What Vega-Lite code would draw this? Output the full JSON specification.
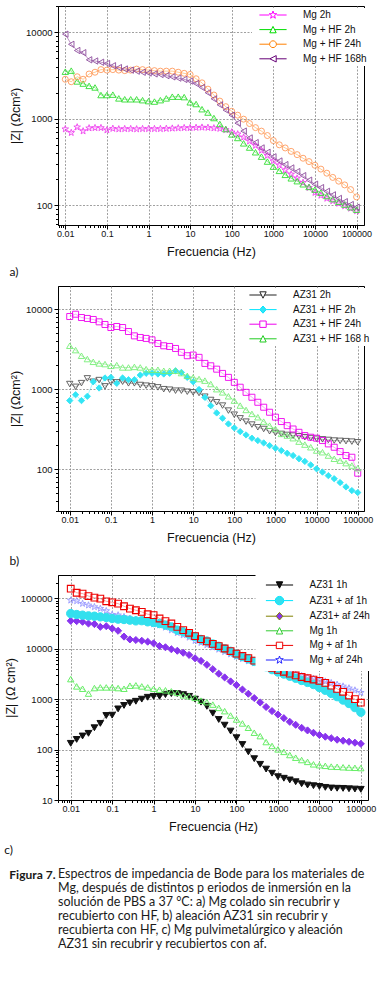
{
"$schema": "https://vega.github.io/schema/vega-lite/v6.json",
"background": "white",
"padding": {"left": 3, "top": 0, "right": 0, "bottom": 0},
"spacing": 7,
"config": {
  "font": "Liberation Sans",
  "view": {"stroke": "#000", "strokeWidth": 1},
  "axis": {"domainColor": "#000", "tickColor": "#000", "labelColor": "#111", "titleColor": "#111", "gridColor": "#888888", "gridDash": [2, 1.5], "gridWidth": 0.8, "labelFont": "Liberation Sans", "titleFont": "Liberation Sans", "titleFontWeight": "normal", "titleFontSize": 12.5, "tickWidth": 1, "domainWidth": 1},
  "legend": {"labelFont": "Liberation Sans", "labelFontSize": 10, "labelColor": "#111", "symbolSize": 64, "symbolStrokeWidth": 1, "symbolOffset": 14, "labelOffset": 25, "rowPadding": 2.6, "padding": 2, "symbolOpacity": 1, "labelLimit": 200}
},
"resolve": {"scale": {"x": "independent", "y": "independent", "color": "independent", "shape": "independent"}, "legend": {"color": "independent", "shape": "independent"}},
"datasets": {
"a": [
{"s":"Mg 2h","f":0.01,"z":760},{"s":"Mg 2h","f":0.0139,"z":690},{"s":"Mg 2h","f":0.0193,"z":800},{"s":"Mg 2h","f":0.0268,"z":720},{"s":"Mg 2h","f":0.0373,"z":780},{"s":"Mg 2h","f":0.0518,"z":785},{"s":"Mg 2h","f":0.072,"z":785},{"s":"Mg 2h","f":0.1,"z":740},{"s":"Mg 2h","f":0.139,"z":770},{"s":"Mg 2h","f":0.193,"z":760},{"s":"Mg 2h","f":0.268,"z":765},{"s":"Mg 2h","f":0.373,"z":765},{"s":"Mg 2h","f":0.518,"z":760},{"s":"Mg 2h","f":0.72,"z":765},{"s":"Mg 2h","f":1,"z":765},{"s":"Mg 2h","f":1.39,"z":765},{"s":"Mg 2h","f":1.93,"z":765},{"s":"Mg 2h","f":2.68,"z":770},{"s":"Mg 2h","f":3.73,"z":775},{"s":"Mg 2h","f":5.18,"z":780},{"s":"Mg 2h","f":7.2,"z":785},{"s":"Mg 2h","f":10,"z":785},{"s":"Mg 2h","f":13.9,"z":790},{"s":"Mg 2h","f":19.3,"z":795},{"s":"Mg 2h","f":26.8,"z":790},{"s":"Mg 2h","f":37.3,"z":780},{"s":"Mg 2h","f":51.8,"z":770},{"s":"Mg 2h","f":72,"z":745},{"s":"Mg 2h","f":100,"z":700},{"s":"Mg 2h","f":139,"z":665},{"s":"Mg 2h","f":193,"z":610},{"s":"Mg 2h","f":268,"z":550},{"s":"Mg 2h","f":373,"z":490},{"s":"Mg 2h","f":518,"z":430},{"s":"Mg 2h","f":720,"z":375},{"s":"Mg 2h","f":1000,"z":325},{"s":"Mg 2h","f":1390,"z":290},{"s":"Mg 2h","f":1930,"z":255},{"s":"Mg 2h","f":2680,"z":228},{"s":"Mg 2h","f":3730,"z":205},{"s":"Mg 2h","f":5180,"z":183},{"s":"Mg 2h","f":7200,"z":160},{"s":"Mg 2h","f":10000,"z":140},{"s":"Mg 2h","f":13900,"z":130},{"s":"Mg 2h","f":19300,"z":120},{"s":"Mg 2h","f":26800,"z":112},{"s":"Mg 2h","f":37300,"z":105},{"s":"Mg 2h","f":51800,"z":98},{"s":"Mg 2h","f":72000,"z":92},{"s":"Mg 2h","f":100000,"z":86},
{"s":"Mg + HF 2h","f":0.01,"z":3500},{"s":"Mg + HF 2h","f":0.0139,"z":3600},{"s":"Mg + HF 2h","f":0.0193,"z":2700},{"s":"Mg + HF 2h","f":0.0268,"z":2550},{"s":"Mg + HF 2h","f":0.0373,"z":2400},{"s":"Mg + HF 2h","f":0.0518,"z":2300},{"s":"Mg + HF 2h","f":0.072,"z":1880},{"s":"Mg + HF 2h","f":0.1,"z":1880},{"s":"Mg + HF 2h","f":0.139,"z":1900},{"s":"Mg + HF 2h","f":0.193,"z":1720},{"s":"Mg + HF 2h","f":0.268,"z":1680},{"s":"Mg + HF 2h","f":0.373,"z":1680},{"s":"Mg + HF 2h","f":0.518,"z":1680},{"s":"Mg + HF 2h","f":0.72,"z":1640},{"s":"Mg + HF 2h","f":1,"z":1600},{"s":"Mg + HF 2h","f":1.39,"z":1580},{"s":"Mg + HF 2h","f":1.93,"z":1640},{"s":"Mg + HF 2h","f":2.68,"z":1720},{"s":"Mg + HF 2h","f":3.73,"z":1800},{"s":"Mg + HF 2h","f":5.18,"z":1800},{"s":"Mg + HF 2h","f":7.2,"z":1780},{"s":"Mg + HF 2h","f":10,"z":1550},{"s":"Mg + HF 2h","f":13.9,"z":1480},{"s":"Mg + HF 2h","f":19.3,"z":1290},{"s":"Mg + HF 2h","f":26.8,"z":1180},{"s":"Mg + HF 2h","f":37.3,"z":1020},{"s":"Mg + HF 2h","f":51.8,"z":870},{"s":"Mg + HF 2h","f":72,"z":760},{"s":"Mg + HF 2h","f":100,"z":660},{"s":"Mg + HF 2h","f":139,"z":600},{"s":"Mg + HF 2h","f":193,"z":520},{"s":"Mg + HF 2h","f":268,"z":465},{"s":"Mg + HF 2h","f":373,"z":410},{"s":"Mg + HF 2h","f":518,"z":365},{"s":"Mg + HF 2h","f":720,"z":320},{"s":"Mg + HF 2h","f":1000,"z":280},{"s":"Mg + HF 2h","f":1390,"z":250},{"s":"Mg + HF 2h","f":1930,"z":225},{"s":"Mg + HF 2h","f":2680,"z":205},{"s":"Mg + HF 2h","f":3730,"z":190},{"s":"Mg + HF 2h","f":5180,"z":175},{"s":"Mg + HF 2h","f":7200,"z":163},{"s":"Mg + HF 2h","f":10000,"z":152},{"s":"Mg + HF 2h","f":13900,"z":140},{"s":"Mg + HF 2h","f":19300,"z":128},{"s":"Mg + HF 2h","f":26800,"z":118},{"s":"Mg + HF 2h","f":37300,"z":110},{"s":"Mg + HF 2h","f":51800,"z":102},{"s":"Mg + HF 2h","f":72000,"z":95},{"s":"Mg + HF 2h","f":100000,"z":89},
{"s":"Mg + HF 24h","f":0.01,"z":2860},{"s":"Mg + HF 24h","f":0.0139,"z":2680},{"s":"Mg + HF 24h","f":0.0193,"z":3060},{"s":"Mg + HF 24h","f":0.0268,"z":2860},{"s":"Mg + HF 24h","f":0.0373,"z":3290},{"s":"Mg + HF 24h","f":0.0518,"z":3450},{"s":"Mg + HF 24h","f":0.072,"z":3700},{"s":"Mg + HF 24h","f":0.1,"z":3650},{"s":"Mg + HF 24h","f":0.139,"z":3700},{"s":"Mg + HF 24h","f":0.193,"z":3650},{"s":"Mg + HF 24h","f":0.268,"z":3600},{"s":"Mg + HF 24h","f":0.373,"z":3650},{"s":"Mg + HF 24h","f":0.518,"z":3750},{"s":"Mg + HF 24h","f":0.72,"z":3700},{"s":"Mg + HF 24h","f":1,"z":3650},{"s":"Mg + HF 24h","f":1.39,"z":3600},{"s":"Mg + HF 24h","f":1.93,"z":3550},{"s":"Mg + HF 24h","f":2.68,"z":3550},{"s":"Mg + HF 24h","f":3.73,"z":3550},{"s":"Mg + HF 24h","f":5.18,"z":3450},{"s":"Mg + HF 24h","f":7.2,"z":3350},{"s":"Mg + HF 24h","f":10,"z":3250},{"s":"Mg + HF 24h","f":13.9,"z":2900},{"s":"Mg + HF 24h","f":19.3,"z":2600},{"s":"Mg + HF 24h","f":26.8,"z":2200},{"s":"Mg + HF 24h","f":37.3,"z":1880},{"s":"Mg + HF 24h","f":51.8,"z":1600},{"s":"Mg + HF 24h","f":72,"z":1380},{"s":"Mg + HF 24h","f":100,"z":1220},{"s":"Mg + HF 24h","f":139,"z":1100},{"s":"Mg + HF 24h","f":193,"z":990},{"s":"Mg + HF 24h","f":268,"z":880},{"s":"Mg + HF 24h","f":373,"z":790},{"s":"Mg + HF 24h","f":518,"z":720},{"s":"Mg + HF 24h","f":720,"z":640},{"s":"Mg + HF 24h","f":1000,"z":560},{"s":"Mg + HF 24h","f":1390,"z":500},{"s":"Mg + HF 24h","f":1930,"z":460},{"s":"Mg + HF 24h","f":2680,"z":420},{"s":"Mg + HF 24h","f":3730,"z":385},{"s":"Mg + HF 24h","f":5180,"z":350},{"s":"Mg + HF 24h","f":7200,"z":320},{"s":"Mg + HF 24h","f":10000,"z":290},{"s":"Mg + HF 24h","f":13900,"z":262},{"s":"Mg + HF 24h","f":19300,"z":235},{"s":"Mg + HF 24h","f":26800,"z":210},{"s":"Mg + HF 24h","f":37300,"z":190},{"s":"Mg + HF 24h","f":51800,"z":172},{"s":"Mg + HF 24h","f":72000,"z":152},{"s":"Mg + HF 24h","f":100000,"z":125},
{"s":"Mg + HF 168h","f":0.01,"z":9500},{"s":"Mg + HF 168h","f":0.0139,"z":7250},{"s":"Mg + HF 168h","f":0.0193,"z":6150},{"s":"Mg + HF 168h","f":0.0268,"z":5800},{"s":"Mg + HF 168h","f":0.0373,"z":4800},{"s":"Mg + HF 168h","f":0.0518,"z":4650},{"s":"Mg + HF 168h","f":0.072,"z":4500},{"s":"Mg + HF 168h","f":0.1,"z":4350},{"s":"Mg + HF 168h","f":0.139,"z":4100},{"s":"Mg + HF 168h","f":0.193,"z":3900},{"s":"Mg + HF 168h","f":0.268,"z":3760},{"s":"Mg + HF 168h","f":0.373,"z":3650},{"s":"Mg + HF 168h","f":0.518,"z":3550},{"s":"Mg + HF 168h","f":0.72,"z":3450},{"s":"Mg + HF 168h","f":1,"z":3380},{"s":"Mg + HF 168h","f":1.39,"z":3300},{"s":"Mg + HF 168h","f":1.93,"z":3250},{"s":"Mg + HF 168h","f":2.68,"z":3150},{"s":"Mg + HF 168h","f":3.73,"z":3050},{"s":"Mg + HF 168h","f":5.18,"z":2950},{"s":"Mg + HF 168h","f":7.2,"z":2850},{"s":"Mg + HF 168h","f":10,"z":2730},{"s":"Mg + HF 168h","f":13.9,"z":2550},{"s":"Mg + HF 168h","f":19.3,"z":2300},{"s":"Mg + HF 168h","f":26.8,"z":2000},{"s":"Mg + HF 168h","f":37.3,"z":1700},{"s":"Mg + HF 168h","f":51.8,"z":1450},{"s":"Mg + HF 168h","f":72,"z":1260},{"s":"Mg + HF 168h","f":100,"z":1100},{"s":"Mg + HF 168h","f":139,"z":890},{"s":"Mg + HF 168h","f":193,"z":720},{"s":"Mg + HF 168h","f":268,"z":600},{"s":"Mg + HF 168h","f":373,"z":530},{"s":"Mg + HF 168h","f":518,"z":460},{"s":"Mg + HF 168h","f":720,"z":410},{"s":"Mg + HF 168h","f":1000,"z":363},{"s":"Mg + HF 168h","f":1390,"z":325},{"s":"Mg + HF 168h","f":1930,"z":295},{"s":"Mg + HF 168h","f":2680,"z":270},{"s":"Mg + HF 168h","f":3730,"z":245},{"s":"Mg + HF 168h","f":5180,"z":220},{"s":"Mg + HF 168h","f":7200,"z":195},{"s":"Mg + HF 168h","f":10000,"z":175},{"s":"Mg + HF 168h","f":13900,"z":160},{"s":"Mg + HF 168h","f":19300,"z":145},{"s":"Mg + HF 168h","f":26800,"z":132},{"s":"Mg + HF 168h","f":37300,"z":120},{"s":"Mg + HF 168h","f":51800,"z":110},{"s":"Mg + HF 168h","f":72000,"z":102},{"s":"Mg + HF 168h","f":100000,"z":95}
],
"b": [
{"s":"AZ31 2h","f":0.01,"z":1160},{"s":"AZ31 2h","f":0.0139,"z":1070},{"s":"AZ31 2h","f":0.0193,"z":1190},{"s":"AZ31 2h","f":0.0268,"z":1365},{"s":"AZ31 2h","f":0.0373,"z":1240},{"s":"AZ31 2h","f":0.0518,"z":1300},{"s":"AZ31 2h","f":0.072,"z":1085},{"s":"AZ31 2h","f":0.1,"z":1217},{"s":"AZ31 2h","f":0.139,"z":1217},{"s":"AZ31 2h","f":0.193,"z":1240},{"s":"AZ31 2h","f":0.268,"z":1183},{"s":"AZ31 2h","f":0.373,"z":1183},{"s":"AZ31 2h","f":0.518,"z":1128},{"s":"AZ31 2h","f":0.72,"z":1107},{"s":"AZ31 2h","f":1,"z":1085},{"s":"AZ31 2h","f":1.39,"z":1054},{"s":"AZ31 2h","f":1.93,"z":1000},{"s":"AZ31 2h","f":2.68,"z":986},{"s":"AZ31 2h","f":3.73,"z":958},{"s":"AZ31 2h","f":5.18,"z":958},{"s":"AZ31 2h","f":7.2,"z":930},{"s":"AZ31 2h","f":10,"z":913},{"s":"AZ31 2h","f":13.9,"z":895},{"s":"AZ31 2h","f":19.3,"z":806},{"s":"AZ31 2h","f":26.8,"z":733},{"s":"AZ31 2h","f":37.3,"z":686},{"s":"AZ31 2h","f":51.8,"z":624},{"s":"AZ31 2h","f":72,"z":540},{"s":"AZ31 2h","f":100,"z":480},{"s":"AZ31 2h","f":139,"z":432},{"s":"AZ31 2h","f":193,"z":393},{"s":"AZ31 2h","f":268,"z":361},{"s":"AZ31 2h","f":373,"z":334},{"s":"AZ31 2h","f":518,"z":318},{"s":"AZ31 2h","f":720,"z":298},{"s":"AZ31 2h","f":1000,"z":284},{"s":"AZ31 2h","f":1390,"z":276},{"s":"AZ31 2h","f":1930,"z":268},{"s":"AZ31 2h","f":2680,"z":263},{"s":"AZ31 2h","f":3730,"z":258},{"s":"AZ31 2h","f":5180,"z":251},{"s":"AZ31 2h","f":7200,"z":245},{"s":"AZ31 2h","f":10000,"z":240},{"s":"AZ31 2h","f":13900,"z":236},{"s":"AZ31 2h","f":19300,"z":232},{"s":"AZ31 2h","f":26800,"z":228},{"s":"AZ31 2h","f":37300,"z":226},{"s":"AZ31 2h","f":51800,"z":224},{"s":"AZ31 2h","f":72000,"z":221},{"s":"AZ31 2h","f":100000,"z":217},
{"s":"AZ31 + HF 2h","f":0.01,"z":720},{"s":"AZ31 + HF 2h","f":0.0139,"z":853},{"s":"AZ31 + HF 2h","f":0.0193,"z":720},{"s":"AZ31 + HF 2h","f":0.0268,"z":815},{"s":"AZ31 + HF 2h","f":0.0373,"z":1240},{"s":"AZ31 + HF 2h","f":0.0518,"z":1035},{"s":"AZ31 + HF 2h","f":0.072,"z":1380},{"s":"AZ31 + HF 2h","f":0.1,"z":1405},{"s":"AZ31 + HF 2h","f":0.139,"z":1183},{"s":"AZ31 + HF 2h","f":0.193,"z":1380},{"s":"AZ31 + HF 2h","f":0.268,"z":1313},{"s":"AZ31 + HF 2h","f":0.373,"z":1313},{"s":"AZ31 + HF 2h","f":0.518,"z":1500},{"s":"AZ31 + HF 2h","f":0.72,"z":1580},{"s":"AZ31 + HF 2h","f":1,"z":1580},{"s":"AZ31 + HF 2h","f":1.39,"z":1550},{"s":"AZ31 + HF 2h","f":1.93,"z":1550},{"s":"AZ31 + HF 2h","f":2.68,"z":1580},{"s":"AZ31 + HF 2h","f":3.73,"z":1700},{"s":"AZ31 + HF 2h","f":5.18,"z":1620},{"s":"AZ31 + HF 2h","f":7.2,"z":1405},{"s":"AZ31 + HF 2h","f":10,"z":1240},{"s":"AZ31 + HF 2h","f":13.9,"z":990},{"s":"AZ31 + HF 2h","f":19.3,"z":790},{"s":"AZ31 + HF 2h","f":26.8,"z":622},{"s":"AZ31 + HF 2h","f":37.3,"z":505},{"s":"AZ31 + HF 2h","f":51.8,"z":433},{"s":"AZ31 + HF 2h","f":72,"z":368},{"s":"AZ31 + HF 2h","f":100,"z":328},{"s":"AZ31 + HF 2h","f":139,"z":295},{"s":"AZ31 + HF 2h","f":193,"z":268},{"s":"AZ31 + HF 2h","f":268,"z":244},{"s":"AZ31 + HF 2h","f":373,"z":228},{"s":"AZ31 + HF 2h","f":518,"z":213},{"s":"AZ31 + HF 2h","f":720,"z":197},{"s":"AZ31 + HF 2h","f":1000,"z":183},{"s":"AZ31 + HF 2h","f":1390,"z":171},{"s":"AZ31 + HF 2h","f":1930,"z":158},{"s":"AZ31 + HF 2h","f":2680,"z":148},{"s":"AZ31 + HF 2h","f":3730,"z":135},{"s":"AZ31 + HF 2h","f":5180,"z":125},{"s":"AZ31 + HF 2h","f":7200,"z":113},{"s":"AZ31 + HF 2h","f":10000,"z":101},{"s":"AZ31 + HF 2h","f":13900,"z":92},{"s":"AZ31 + HF 2h","f":19300,"z":83},{"s":"AZ31 + HF 2h","f":26800,"z":76},{"s":"AZ31 + HF 2h","f":37300,"z":68},{"s":"AZ31 + HF 2h","f":51800,"z":60},{"s":"AZ31 + HF 2h","f":72000,"z":54},{"s":"AZ31 + HF 2h","f":100000,"z":51},
{"s":"AZ31 + HF 24h","f":0.01,"z":8100},{"s":"AZ31 + HF 24h","f":0.0139,"z":8660},{"s":"AZ31 + HF 24h","f":0.0193,"z":7870},{"s":"AZ31 + HF 24h","f":0.0268,"z":7660},{"s":"AZ31 + HF 24h","f":0.0373,"z":7440},{"s":"AZ31 + HF 24h","f":0.0518,"z":6950},{"s":"AZ31 + HF 24h","f":0.072,"z":6440},{"s":"AZ31 + HF 24h","f":0.1,"z":5900},{"s":"AZ31 + HF 24h","f":0.139,"z":6080},{"s":"AZ31 + HF 24h","f":0.193,"z":5900},{"s":"AZ31 + HF 24h","f":0.268,"z":5260},{"s":"AZ31 + HF 24h","f":0.373,"z":4640},{"s":"AZ31 + HF 24h","f":0.518,"z":4430},{"s":"AZ31 + HF 24h","f":0.72,"z":4310},{"s":"AZ31 + HF 24h","f":1,"z":4140},{"s":"AZ31 + HF 24h","f":1.39,"z":3730},{"s":"AZ31 + HF 24h","f":1.93,"z":3490},{"s":"AZ31 + HF 24h","f":2.68,"z":3420},{"s":"AZ31 + HF 24h","f":3.73,"z":3230},{"s":"AZ31 + HF 24h","f":5.18,"z":2890},{"s":"AZ31 + HF 24h","f":7.2,"z":2620},{"s":"AZ31 + HF 24h","f":10,"z":2670},{"s":"AZ31 + HF 24h","f":13.9,"z":2500},{"s":"AZ31 + HF 24h","f":19.3,"z":2100},{"s":"AZ31 + HF 24h","f":26.8,"z":1960},{"s":"AZ31 + HF 24h","f":37.3,"z":1780},{"s":"AZ31 + HF 24h","f":51.8,"z":1575},{"s":"AZ31 + HF 24h","f":72,"z":1405},{"s":"AZ31 + HF 24h","f":100,"z":1217},{"s":"AZ31 + HF 24h","f":139,"z":1058},{"s":"AZ31 + HF 24h","f":193,"z":913},{"s":"AZ31 + HF 24h","f":268,"z":793},{"s":"AZ31 + HF 24h","f":373,"z":686},{"s":"AZ31 + HF 24h","f":518,"z":595},{"s":"AZ31 + HF 24h","f":720,"z":515},{"s":"AZ31 + HF 24h","f":1000,"z":447},{"s":"AZ31 + HF 24h","f":1390,"z":394},{"s":"AZ31 + HF 24h","f":1930,"z":350},{"s":"AZ31 + HF 24h","f":2680,"z":318},{"s":"AZ31 + HF 24h","f":3730,"z":289},{"s":"AZ31 + HF 24h","f":5180,"z":263},{"s":"AZ31 + HF 24h","f":7200,"z":251},{"s":"AZ31 + HF 24h","f":10000,"z":244},{"s":"AZ31 + HF 24h","f":13900,"z":228},{"s":"AZ31 + HF 24h","f":19300,"z":207},{"s":"AZ31 + HF 24h","f":26800,"z":188},{"s":"AZ31 + HF 24h","f":37300,"z":166},{"s":"AZ31 + HF 24h","f":51800,"z":148},{"s":"AZ31 + HF 24h","f":72000,"z":141},{"s":"AZ31 + HF 24h","f":100000,"z":89},
{"s":"AZ31 + HF 168 h","f":0.01,"z":3490},{"s":"AZ31 + HF 168 h","f":0.0139,"z":3080},{"s":"AZ31 + HF 168 h","f":0.0193,"z":2620},{"s":"AZ31 + HF 168 h","f":0.0268,"z":2380},{"s":"AZ31 + HF 168 h","f":0.0373,"z":2200},{"s":"AZ31 + HF 168 h","f":0.0518,"z":2100},{"s":"AZ31 + HF 168 h","f":0.072,"z":2060},{"s":"AZ31 + HF 168 h","f":0.1,"z":1960},{"s":"AZ31 + HF 168 h","f":0.139,"z":2000},{"s":"AZ31 + HF 168 h","f":0.193,"z":1870},{"s":"AZ31 + HF 168 h","f":0.268,"z":1870},{"s":"AZ31 + HF 168 h","f":0.373,"z":1900},{"s":"AZ31 + HF 168 h","f":0.518,"z":1870},{"s":"AZ31 + HF 168 h","f":0.72,"z":1780},{"s":"AZ31 + HF 168 h","f":1,"z":1750},{"s":"AZ31 + HF 168 h","f":1.39,"z":1750},{"s":"AZ31 + HF 168 h","f":1.93,"z":1700},{"s":"AZ31 + HF 168 h","f":2.68,"z":1700},{"s":"AZ31 + HF 168 h","f":3.73,"z":1700},{"s":"AZ31 + HF 168 h","f":5.18,"z":1590},{"s":"AZ31 + HF 168 h","f":7.2,"z":1470},{"s":"AZ31 + HF 168 h","f":10,"z":1400},{"s":"AZ31 + HF 168 h","f":13.9,"z":1340},{"s":"AZ31 + HF 168 h","f":19.3,"z":1280},{"s":"AZ31 + HF 168 h","f":26.8,"z":1160},{"s":"AZ31 + HF 168 h","f":37.3,"z":1000},{"s":"AZ31 + HF 168 h","f":51.8,"z":913},{"s":"AZ31 + HF 168 h","f":72,"z":815},{"s":"AZ31 + HF 168 h","f":100,"z":720},{"s":"AZ31 + HF 168 h","f":139,"z":624},{"s":"AZ31 + HF 168 h","f":193,"z":550},{"s":"AZ31 + HF 168 h","f":268,"z":491},{"s":"AZ31 + HF 168 h","f":373,"z":446},{"s":"AZ31 + HF 168 h","f":518,"z":393},{"s":"AZ31 + HF 168 h","f":720,"z":350},{"s":"AZ31 + HF 168 h","f":1000,"z":318},{"s":"AZ31 + HF 168 h","f":1390,"z":276},{"s":"AZ31 + HF 168 h","f":1930,"z":263},{"s":"AZ31 + HF 168 h","f":2680,"z":244},{"s":"AZ31 + HF 168 h","f":3730,"z":221},{"s":"AZ31 + HF 168 h","f":5180,"z":203},{"s":"AZ31 + HF 168 h","f":7200,"z":188},{"s":"AZ31 + HF 168 h","f":10000,"z":171},{"s":"AZ31 + HF 168 h","f":13900,"z":163},{"s":"AZ31 + HF 168 h","f":19300,"z":148},{"s":"AZ31 + HF 168 h","f":26800,"z":135},{"s":"AZ31 + HF 168 h","f":37300,"z":128},{"s":"AZ31 + HF 168 h","f":51800,"z":119},{"s":"AZ31 + HF 168 h","f":72000,"z":111},{"s":"AZ31 + HF 168 h","f":100000,"z":103}
],
"c": [
{"s":"AZ31 1h","f":0.01,"z":133},{"s":"AZ31 1h","f":0.0139,"z":159},{"s":"AZ31 1h","f":0.0193,"z":186},{"s":"AZ31 1h","f":0.0268,"z":210},{"s":"AZ31 1h","f":0.0373,"z":271},{"s":"AZ31 1h","f":0.0518,"z":331},{"s":"AZ31 1h","f":0.072,"z":474},{"s":"AZ31 1h","f":0.1,"z":481},{"s":"AZ31 1h","f":0.139,"z":641},{"s":"AZ31 1h","f":0.193,"z":750},{"s":"AZ31 1h","f":0.268,"z":842},{"s":"AZ31 1h","f":0.373,"z":908},{"s":"AZ31 1h","f":0.518,"z":1000},{"s":"AZ31 1h","f":0.72,"z":1089},{"s":"AZ31 1h","f":1,"z":1137},{"s":"AZ31 1h","f":1.39,"z":1137},{"s":"AZ31 1h","f":1.93,"z":1230},{"s":"AZ31 1h","f":2.68,"z":1290},{"s":"AZ31 1h","f":3.73,"z":1290},{"s":"AZ31 1h","f":5.18,"z":1230},{"s":"AZ31 1h","f":7.2,"z":1137},{"s":"AZ31 1h","f":10,"z":1000},{"s":"AZ31 1h","f":13.9,"z":870},{"s":"AZ31 1h","f":19.3,"z":720},{"s":"AZ31 1h","f":26.8,"z":527},{"s":"AZ31 1h","f":37.3,"z":395},{"s":"AZ31 1h","f":51.8,"z":305},{"s":"AZ31 1h","f":72,"z":233},{"s":"AZ31 1h","f":100,"z":172},{"s":"AZ31 1h","f":139,"z":126},{"s":"AZ31 1h","f":193,"z":90},{"s":"AZ31 1h","f":268,"z":66},{"s":"AZ31 1h","f":373,"z":51},{"s":"AZ31 1h","f":518,"z":41},{"s":"AZ31 1h","f":720,"z":34},{"s":"AZ31 1h","f":1000,"z":29},{"s":"AZ31 1h","f":1390,"z":27},{"s":"AZ31 1h","f":1930,"z":25},{"s":"AZ31 1h","f":2680,"z":23},{"s":"AZ31 1h","f":3730,"z":21},{"s":"AZ31 1h","f":5180,"z":19.8},{"s":"AZ31 1h","f":7200,"z":19.2},{"s":"AZ31 1h","f":10000,"z":18.6},{"s":"AZ31 1h","f":13900,"z":17.8},{"s":"AZ31 1h","f":19300,"z":17.3},{"s":"AZ31 1h","f":26800,"z":17.1},{"s":"AZ31 1h","f":37300,"z":17},{"s":"AZ31 1h","f":51800,"z":16.7},{"s":"AZ31 1h","f":72000,"z":16.5},{"s":"AZ31 1h","f":100000,"z":16.3},
{"s":"AZ31 + af 1h","f":0.01,"z":49900},{"s":"AZ31 + af 1h","f":0.0139,"z":47700},{"s":"AZ31 + af 1h","f":0.0193,"z":46300},{"s":"AZ31 + af 1h","f":0.0268,"z":44900},{"s":"AZ31 + af 1h","f":0.0373,"z":44200},{"s":"AZ31 + af 1h","f":0.0518,"z":42900},{"s":"AZ31 + af 1h","f":0.072,"z":41700},{"s":"AZ31 + af 1h","f":0.1,"z":39800},{"s":"AZ31 + af 1h","f":0.139,"z":38600},{"s":"AZ31 + af 1h","f":0.193,"z":38000},{"s":"AZ31 + af 1h","f":0.268,"z":36900},{"s":"AZ31 + af 1h","f":0.373,"z":35700},{"s":"AZ31 + af 1h","f":0.518,"z":36000},{"s":"AZ31 + af 1h","f":0.72,"z":34200},{"s":"AZ31 + af 1h","f":1,"z":33100},{"s":"AZ31 + af 1h","f":1.39,"z":31600},{"s":"AZ31 + af 1h","f":1.93,"z":29400},{"s":"AZ31 + af 1h","f":2.68,"z":27200},{"s":"AZ31 + af 1h","f":3.73,"z":23400},{"s":"AZ31 + af 1h","f":5.18,"z":21700},{"s":"AZ31 + af 1h","f":7.2,"z":19500},{"s":"AZ31 + af 1h","f":10,"z":17400},{"s":"AZ31 + af 1h","f":13.9,"z":15300},{"s":"AZ31 + af 1h","f":19.3,"z":14200},{"s":"AZ31 + af 1h","f":26.8,"z":12400},{"s":"AZ31 + af 1h","f":37.3,"z":11200},{"s":"AZ31 + af 1h","f":51.8,"z":10000},{"s":"AZ31 + af 1h","f":72,"z":8900},{"s":"AZ31 + af 1h","f":100,"z":7800},{"s":"AZ31 + af 1h","f":139,"z":7000},{"s":"AZ31 + af 1h","f":193,"z":6300},{"s":"AZ31 + af 1h","f":268,"z":5600},{"s":"AZ31 + af 1h","f":373,"z":5000},{"s":"AZ31 + af 1h","f":518,"z":4400},{"s":"AZ31 + af 1h","f":720,"z":3850},{"s":"AZ31 + af 1h","f":1000,"z":3450},{"s":"AZ31 + af 1h","f":1390,"z":3150},{"s":"AZ31 + af 1h","f":1930,"z":2850},{"s":"AZ31 + af 1h","f":2680,"z":2600},{"s":"AZ31 + af 1h","f":3730,"z":2350},{"s":"AZ31 + af 1h","f":5180,"z":2150},{"s":"AZ31 + af 1h","f":7200,"z":1950},{"s":"AZ31 + af 1h","f":10000,"z":1700},{"s":"AZ31 + af 1h","f":13900,"z":1500},{"s":"AZ31 + af 1h","f":19300,"z":1300},{"s":"AZ31 + af 1h","f":26800,"z":1120},{"s":"AZ31 + af 1h","f":37300,"z":960},{"s":"AZ31 + af 1h","f":51800,"z":820},{"s":"AZ31 + af 1h","f":72000,"z":680},{"s":"AZ31 + af 1h","f":100000,"z":550},
{"s":"AZ31+ af 24h","f":0.01,"z":35700},{"s":"AZ31+ af 24h","f":0.0139,"z":35300},{"s":"AZ31+ af 24h","f":0.0193,"z":34200},{"s":"AZ31+ af 24h","f":0.0268,"z":31600},{"s":"AZ31+ af 24h","f":0.0373,"z":30800},{"s":"AZ31+ af 24h","f":0.0518,"z":27200},{"s":"AZ31+ af 24h","f":0.072,"z":28000},{"s":"AZ31+ af 24h","f":0.1,"z":25200},{"s":"AZ31+ af 24h","f":0.139,"z":22700},{"s":"AZ31+ af 24h","f":0.193,"z":17400},{"s":"AZ31+ af 24h","f":0.268,"z":15300},{"s":"AZ31+ af 24h","f":0.373,"z":14900},{"s":"AZ31+ af 24h","f":0.518,"z":14400},{"s":"AZ31+ af 24h","f":0.72,"z":13800},{"s":"AZ31+ af 24h","f":1,"z":12800},{"s":"AZ31+ af 24h","f":1.39,"z":11300},{"s":"AZ31+ af 24h","f":1.93,"z":10700},{"s":"AZ31+ af 24h","f":2.68,"z":9770},{"s":"AZ31+ af 24h","f":3.73,"z":9120},{"s":"AZ31+ af 24h","f":5.18,"z":8320},{"s":"AZ31+ af 24h","f":7.2,"z":7530},{"s":"AZ31+ af 24h","f":10,"z":6460},{"s":"AZ31+ af 24h","f":13.9,"z":5740},{"s":"AZ31+ af 24h","f":19.3,"z":4800},{"s":"AZ31+ af 24h","f":26.8,"z":3930},{"s":"AZ31+ af 24h","f":37.3,"z":3200},{"s":"AZ31+ af 24h","f":51.8,"z":2700},{"s":"AZ31+ af 24h","f":72,"z":2250},{"s":"AZ31+ af 24h","f":100,"z":1900},{"s":"AZ31+ af 24h","f":139,"z":1550},{"s":"AZ31+ af 24h","f":193,"z":1280},{"s":"AZ31+ af 24h","f":268,"z":1050},{"s":"AZ31+ af 24h","f":373,"z":860},{"s":"AZ31+ af 24h","f":518,"z":700},{"s":"AZ31+ af 24h","f":720,"z":580},{"s":"AZ31+ af 24h","f":1000,"z":495},{"s":"AZ31+ af 24h","f":1390,"z":420},{"s":"AZ31+ af 24h","f":1930,"z":355},{"s":"AZ31+ af 24h","f":2680,"z":310},{"s":"AZ31+ af 24h","f":3730,"z":270},{"s":"AZ31+ af 24h","f":5180,"z":240},{"s":"AZ31+ af 24h","f":7200,"z":215},{"s":"AZ31+ af 24h","f":10000,"z":195},{"s":"AZ31+ af 24h","f":13900,"z":180},{"s":"AZ31+ af 24h","f":19300,"z":168},{"s":"AZ31+ af 24h","f":26800,"z":157},{"s":"AZ31+ af 24h","f":37300,"z":150},{"s":"AZ31+ af 24h","f":51800,"z":143},{"s":"AZ31+ af 24h","f":72000,"z":137},{"s":"AZ31+ af 24h","f":100000,"z":130},
{"s":"Mg 1h","f":0.01,"z":2500},{"s":"Mg 1h","f":0.0139,"z":1790},{"s":"Mg 1h","f":0.0193,"z":1610},{"s":"Mg 1h","f":0.0268,"z":1290},{"s":"Mg 1h","f":0.0373,"z":1660},{"s":"Mg 1h","f":0.0518,"z":1710},{"s":"Mg 1h","f":0.072,"z":1710},{"s":"Mg 1h","f":0.1,"z":1710},{"s":"Mg 1h","f":0.139,"z":1660},{"s":"Mg 1h","f":0.193,"z":1610},{"s":"Mg 1h","f":0.268,"z":1850},{"s":"Mg 1h","f":0.373,"z":1880},{"s":"Mg 1h","f":0.518,"z":1790},{"s":"Mg 1h","f":0.72,"z":1710},{"s":"Mg 1h","f":1,"z":1610},{"s":"Mg 1h","f":1.39,"z":1540},{"s":"Mg 1h","f":1.93,"z":1500},{"s":"Mg 1h","f":2.68,"z":1430},{"s":"Mg 1h","f":3.73,"z":1330},{"s":"Mg 1h","f":5.18,"z":1190},{"s":"Mg 1h","f":7.2,"z":1140},{"s":"Mg 1h","f":10,"z":1060},{"s":"Mg 1h","f":13.9,"z":935},{"s":"Mg 1h","f":19.3,"z":870},{"s":"Mg 1h","f":26.8,"z":780},{"s":"Mg 1h","f":37.3,"z":671},{"s":"Mg 1h","f":51.8,"z":578},{"s":"Mg 1h","f":72,"z":474},{"s":"Mg 1h","f":100,"z":395},{"s":"Mg 1h","f":139,"z":330},{"s":"Mg 1h","f":193,"z":271},{"s":"Mg 1h","f":268,"z":216},{"s":"Mg 1h","f":373,"z":185},{"s":"Mg 1h","f":518,"z":141},{"s":"Mg 1h","f":720,"z":118},{"s":"Mg 1h","f":1000,"z":101},{"s":"Mg 1h","f":1390,"z":90},{"s":"Mg 1h","f":1930,"z":78},{"s":"Mg 1h","f":2680,"z":69},{"s":"Mg 1h","f":3730,"z":62},{"s":"Mg 1h","f":5180,"z":57},{"s":"Mg 1h","f":7200,"z":51},{"s":"Mg 1h","f":10000,"z":49},{"s":"Mg 1h","f":13900,"z":47.6},{"s":"Mg 1h","f":19300,"z":46},{"s":"Mg 1h","f":26800,"z":45.5},{"s":"Mg 1h","f":37300,"z":44.6},{"s":"Mg 1h","f":51800,"z":44},{"s":"Mg 1h","f":72000,"z":43.5},{"s":"Mg 1h","f":100000,"z":43},
{"s":"Mg + af 1h","f":0.01,"z":155000},{"s":"Mg + af 1h","f":0.0139,"z":129000},{"s":"Mg + af 1h","f":0.0193,"z":124000},{"s":"Mg + af 1h","f":0.0268,"z":111000},{"s":"Mg + af 1h","f":0.0373,"z":103000},{"s":"Mg + af 1h","f":0.0518,"z":98500},{"s":"Mg + af 1h","f":0.072,"z":87300},{"s":"Mg + af 1h","f":0.1,"z":83400},{"s":"Mg + af 1h","f":0.139,"z":78500},{"s":"Mg + af 1h","f":0.193,"z":69600},{"s":"Mg + af 1h","f":0.268,"z":62600},{"s":"Mg + af 1h","f":0.373,"z":58000},{"s":"Mg + af 1h","f":0.518,"z":53800},{"s":"Mg + af 1h","f":0.72,"z":48400},{"s":"Mg + af 1h","f":1,"z":46300},{"s":"Mg + af 1h","f":1.39,"z":39800},{"s":"Mg + af 1h","f":1.93,"z":35300},{"s":"Mg + af 1h","f":2.68,"z":31650},{"s":"Mg + af 1h","f":3.73,"z":27200},{"s":"Mg + af 1h","f":5.18,"z":23400},{"s":"Mg + af 1h","f":7.2,"z":20700},{"s":"Mg + af 1h","f":10,"z":17800},{"s":"Mg + af 1h","f":13.9,"z":15500},{"s":"Mg + af 1h","f":19.3,"z":14000},{"s":"Mg + af 1h","f":26.8,"z":12500},{"s":"Mg + af 1h","f":37.3,"z":11300},{"s":"Mg + af 1h","f":51.8,"z":10100},{"s":"Mg + af 1h","f":72,"z":9000},{"s":"Mg + af 1h","f":100,"z":8000},{"s":"Mg + af 1h","f":139,"z":7200},{"s":"Mg + af 1h","f":193,"z":6500},{"s":"Mg + af 1h","f":268,"z":5800},{"s":"Mg + af 1h","f":373,"z":5200},{"s":"Mg + af 1h","f":518,"z":4700},{"s":"Mg + af 1h","f":720,"z":4200},{"s":"Mg + af 1h","f":1000,"z":3800},{"s":"Mg + af 1h","f":1390,"z":3500},{"s":"Mg + af 1h","f":1930,"z":3200},{"s":"Mg + af 1h","f":2680,"z":2950},{"s":"Mg + af 1h","f":3730,"z":2750},{"s":"Mg + af 1h","f":5180,"z":2600},{"s":"Mg + af 1h","f":7200,"z":2450},{"s":"Mg + af 1h","f":10000,"z":2300},{"s":"Mg + af 1h","f":13900,"z":2100},{"s":"Mg + af 1h","f":19300,"z":1850},{"s":"Mg + af 1h","f":26800,"z":1600},{"s":"Mg + af 1h","f":37300,"z":1400},{"s":"Mg + af 1h","f":51800,"z":1180},{"s":"Mg + af 1h","f":72000,"z":1000},{"s":"Mg + af 1h","f":100000,"z":850},
{"s":"Mg + af 24h","f":0.01,"z":91300},{"s":"Mg + af 24h","f":0.0139,"z":88500},{"s":"Mg + af 24h","f":0.0193,"z":78500},{"s":"Mg + af 24h","f":0.0268,"z":72900},{"s":"Mg + af 24h","f":0.0373,"z":67500},{"s":"Mg + af 24h","f":0.0518,"z":62600},{"s":"Mg + af 24h","f":0.072,"z":56300},{"s":"Mg + af 24h","f":0.1,"z":47600},{"s":"Mg + af 24h","f":0.139,"z":46300},{"s":"Mg + af 24h","f":0.193,"z":42900},{"s":"Mg + af 24h","f":0.268,"z":39800},{"s":"Mg + af 24h","f":0.373,"z":38000},{"s":"Mg + af 24h","f":0.518,"z":35300},{"s":"Mg + af 24h","f":0.72,"z":34200},{"s":"Mg + af 24h","f":1,"z":30800},{"s":"Mg + af 24h","f":1.39,"z":29400},{"s":"Mg + af 24h","f":1.93,"z":26500},{"s":"Mg + af 24h","f":2.68,"z":23400},{"s":"Mg + af 24h","f":3.73,"z":20700},{"s":"Mg + af 24h","f":5.18,"z":18700},{"s":"Mg + af 24h","f":7.2,"z":16800},{"s":"Mg + af 24h","f":10,"z":14400},{"s":"Mg + af 24h","f":13.9,"z":13200},{"s":"Mg + af 24h","f":19.3,"z":11900},{"s":"Mg + af 24h","f":26.8,"z":10700},{"s":"Mg + af 24h","f":37.3,"z":9700},{"s":"Mg + af 24h","f":51.8,"z":8700},{"s":"Mg + af 24h","f":72,"z":7800},{"s":"Mg + af 24h","f":100,"z":7000},{"s":"Mg + af 24h","f":139,"z":6300},{"s":"Mg + af 24h","f":193,"z":5700},{"s":"Mg + af 24h","f":268,"z":5200},{"s":"Mg + af 24h","f":373,"z":4800},{"s":"Mg + af 24h","f":518,"z":4400},{"s":"Mg + af 24h","f":720,"z":4100},{"s":"Mg + af 24h","f":1000,"z":3800},{"s":"Mg + af 24h","f":1390,"z":3550},{"s":"Mg + af 24h","f":1930,"z":3300},{"s":"Mg + af 24h","f":2680,"z":3100},{"s":"Mg + af 24h","f":3730,"z":2900},{"s":"Mg + af 24h","f":5180,"z":2700},{"s":"Mg + af 24h","f":7200,"z":2550},{"s":"Mg + af 24h","f":10000,"z":2400},{"s":"Mg + af 24h","f":13900,"z":2250},{"s":"Mg + af 24h","f":19300,"z":2100},{"s":"Mg + af 24h","f":26800,"z":1950},{"s":"Mg + af 24h","f":37300,"z":1800},{"s":"Mg + af 24h","f":51800,"z":1650},{"s":"Mg + af 24h","f":72000,"z":1500},{"s":"Mg + af 24h","f":100000,"z":1350}
],
"cap": [
{"n":1,"t":"Espectros de impedancia de Bode para los materiales de"},
{"n":2,"t":"Mg, después de distintos p eriodos de inmersión en la"},
{"n":3,"t":"solución de PBS a 37 °C: a) Mg colado sin recubrir y"},
{"n":4,"t":"recubierto con HF, b) aleación AZ31 sin recubrir y"},
{"n":5,"t":"recubierta con HF, c) Mg pulvimetalúrgico y aleación"},
{"n":6,"t":"AZ31 sin recubrir y recubiertos con af."}
]
},
"vconcat": [
{
 "width": 306, "height": 219,
 "title": {"text": "a)", "orient": "bottom", "anchor": "start", "frame": "bounds", "offset": 9, "font": "Lato", "fontSize": 12, "fontWeight": "normal", "color": "#111"},
 "data": {"name": "a"},
 "encoding": {
  "x": {"field": "f", "type": "quantitative", "scale": {"type": "log", "domain": [0.00668, 151000], "nice": false},
   "axis": {"title": "Frecuencia (Hz)", "tickCount": 30, "format": "~g", "labelExpr": "abs(log(datum.value)/LN10-round(log(datum.value)/LN10))<0.001 ? datum.label : ''", "tickSize": {"condition": {"test": "abs(log(datum.value)/LN10-round(log(datum.value)/LN10))<0.001", "value": 4}, "value": 2.5}, "gridOpacity": {"condition": {"test": "abs(log(datum.value)/LN10-round(log(datum.value)/LN10))<0.001", "value": 1}, "value": 0}, "labelOverlap": false, "labelFlush": false, "labelFontSize": 9, "labelPadding": 0, "titlePadding": 7}},
  "y": {"field": "z", "type": "quantitative", "scale": {"type": "log", "domain": [59.2, 20100], "nice": false},
   "axis": {"title": "|Z| (Ωcm²)", "tickCount": 30, "format": "~g", "labelExpr": "abs(log(datum.value)/LN10-round(log(datum.value)/LN10))<0.001 ? datum.label : ''", "tickSize": {"condition": {"test": "abs(log(datum.value)/LN10-round(log(datum.value)/LN10))<0.001", "value": 4}, "value": 2.5}, "gridOpacity": {"condition": {"test": "abs(log(datum.value)/LN10-round(log(datum.value)/LN10))<0.001", "value": 1}, "value": 0}, "labelOverlap": false, "labelFlush": false, "labelFontSize": 9.5, "labelPadding": 2, "titlePadding": 3}}
 },
 "layer": [
  {"mark": {"type": "line", "strokeWidth": 0.7, "opacity": 0.6},
   "encoding": {"color": {"field": "s", "type": "nominal", "scale": {"domain": ["Mg 2h", "Mg + HF 2h", "Mg + HF 24h", "Mg + HF 168h"], "range": ["#ff00ff", "#00dd00", "#ff8000", "#660077"]},
    "legend": {"title": null, "orient": "none", "legendX": 194, "legendY": 2, "fillColor": "white",
     "encode": {"symbols": {"update": {
      "stroke": {"signal": "datum.value=='Mg 2h'?'#ee44ee':datum.value=='Mg + HF 2h'?'#22dd22':datum.value=='Mg + HF 24h'?'#ff8c40':'#7a3a8a'"},
      "fill": {"value": "transparent"}, "opacity": {"value": 1}}}}}}}},
  {"mark": {"type": "point", "opacity": 0},
   "encoding": {"shape": {"field": "s", "type": "nominal", "scale": {"domain": ["Mg 2h", "Mg + HF 2h", "Mg + HF 24h", "Mg + HF 168h"], "range": ["M-3.4,0H-0.95M0.95,0H3.4M0,-1L0.235,-0.324L0.951,-0.309L0.38,0.124L0.588,0.809L0,0.4L-0.588,0.809L-0.38,0.124L-0.951,-0.309L-0.235,-0.324Z", "M-3.4,0H-0.4M0.4,0H3.4M0,-0.8L0.8,0.8L-0.8,0.8Z", "M-3.4,0H-0.85M0.85,0H3.4M0.85,0A0.85,0.85,0,1,1,-0.85,0A0.85,0.85,0,1,1,0.85,0Z", "M-3.4,0H-0.8M0.8,0H3.4M-0.8,0L0.8,-0.8L0.8,0.8Z"]}, "legend": null}}},
  {"transform": [{"filter": {"field": "s", "equal": "Mg 2h"}}], "mark": {"type": "point", "opacity": 1, "strokeWidth": 0.9, "size": 48, "fill": "transparent", "stroke": "#ee44ee", "shape": "M0,-1L0.235,-0.324L0.951,-0.309L0.38,0.124L0.588,0.809L0,0.4L-0.588,0.809L-0.38,0.124L-0.951,-0.309L-0.235,-0.324Z"}},
  {"transform": [{"filter": {"field": "s", "equal": "Mg + HF 2h"}}], "mark": {"type": "point", "opacity": 1, "strokeWidth": 0.9, "size": 40, "fill": "transparent", "stroke": "#33dd33", "shape": "triangle-up"}},
  {"transform": [{"filter": {"field": "s", "equal": "Mg + HF 24h"}}], "mark": {"type": "point", "opacity": 1, "strokeWidth": 0.9, "size": 36, "fill": "transparent", "stroke": "#ff9a5c", "shape": "circle"}},
  {"transform": [{"filter": {"field": "s", "equal": "Mg + HF 168h"}}], "mark": {"type": "point", "opacity": 1, "strokeWidth": 0.9, "size": 40, "fill": "transparent", "stroke": "#8c4c9c", "shape": "triangle-left"}}
 ]
},
{
 "width": 306, "height": 225,
 "title": {"text": "b)", "orient": "bottom", "anchor": "start", "frame": "bounds", "offset": 12, "font": "Lato", "fontSize": 12, "fontWeight": "normal", "color": "#111"},
 "data": {"name": "b"},
 "encoding": {
  "x": {"field": "f", "type": "quantitative", "scale": {"type": "log", "domain": [0.00519, 142000], "nice": false},
   "axis": {"title": "Frecuencia (Hz)", "tickCount": 30, "format": "~g", "labelExpr": "abs(log(datum.value)/LN10-round(log(datum.value)/LN10))<0.001 ? datum.label : ''", "tickSize": {"condition": {"test": "abs(log(datum.value)/LN10-round(log(datum.value)/LN10))<0.001", "value": 4}, "value": 2.5}, "gridOpacity": {"condition": {"test": "abs(log(datum.value)/LN10-round(log(datum.value)/LN10))<0.001", "value": 1}, "value": 0}, "labelOverlap": false, "labelFlush": false, "labelFontSize": 9, "labelPadding": 0, "titlePadding": 7}},
  "y": {"field": "z", "type": "quantitative", "scale": {"type": "log", "domain": [30, 19500], "nice": false},
   "axis": {"title": "|Z| (Ωcm²)", "tickCount": 30, "format": "~g", "labelExpr": "abs(log(datum.value)/LN10-round(log(datum.value)/LN10))<0.001 ? datum.label : ''", "tickSize": {"condition": {"test": "abs(log(datum.value)/LN10-round(log(datum.value)/LN10))<0.001", "value": 4}, "value": 2.5}, "gridOpacity": {"condition": {"test": "abs(log(datum.value)/LN10-round(log(datum.value)/LN10))<0.001", "value": 1}, "value": 0}, "labelOverlap": false, "labelFlush": false, "labelFontSize": 9.5, "labelPadding": 2, "titlePadding": 3}}
 },
 "layer": [
  {"mark": {"type": "line", "strokeWidth": 0.7, "opacity": 0.5},
   "encoding": {"color": {"field": "s", "type": "nominal", "scale": {"domain": ["AZ31 2h", "AZ31 + HF 2h", "AZ31 + HF 24h", "AZ31 + HF 168 h"], "range": ["#222222", "#00e5ff", "#ee00ee", "#22cc22"]},
    "legend": {"title": null, "orient": "none", "legendX": 184, "legendY": 2, "fillColor": "white",
     "encode": {"symbols": {"update": {
      "stroke": {"signal": "datum.value=='AZ31 2h'?'#333333':datum.value=='AZ31 + HF 2h'?'#22e0f0':datum.value=='AZ31 + HF 24h'?'#ee00ee':'#44dd44'"},
      "fill": {"signal": "datum.value=='AZ31 + HF 2h'?'#33e5f5':'transparent'"}, "opacity": {"value": 1}}}}}}}},
  {"mark": {"type": "point", "opacity": 0},
   "encoding": {"shape": {"field": "s", "type": "nominal", "scale": {"domain": ["AZ31 2h", "AZ31 + HF 2h", "AZ31 + HF 24h", "AZ31 + HF 168 h"], "range": ["M-3.4,0H-0.4M0.4,0H3.4M0,0.8L0.8,-0.8L-0.8,-0.8Z", "M-3.4,0H-0.8M0.8,0H3.4M0,-0.9L0.8,0L0,0.9L-0.8,0Z", "M-3.4,0H-0.8M0.8,0H3.4M-0.8,-0.8H0.8V0.8H-0.8Z", "M-3.4,0H-0.4M0.4,0H3.4M0,-0.8L0.8,0.8L-0.8,0.8Z"]}, "legend": null}}},
  {"transform": [{"filter": {"field": "s", "equal": "AZ31 2h"}}], "mark": {"type": "point", "opacity": 1, "strokeWidth": 0.9, "size": 40, "fill": "transparent", "stroke": "#555555", "shape": "triangle-down"}},
  {"transform": [{"filter": {"field": "s", "equal": "AZ31 + HF 2h"}}], "mark": {"type": "point", "opacity": 1, "strokeWidth": 0.9, "size": 40, "fill": "#33e5f5", "stroke": "#33e5f5", "shape": "diamond"}},
  {"transform": [{"filter": {"field": "s", "equal": "AZ31 + HF 24h"}}], "mark": {"type": "point", "opacity": 1, "strokeWidth": 0.9, "size": 36, "fill": "transparent", "stroke": "#ee00ee", "shape": "square"}},
  {"transform": [{"filter": {"field": "s", "equal": "AZ31 + HF 168 h"}}], "mark": {"type": "point", "opacity": 1, "strokeWidth": 0.9, "size": 40, "fill": "transparent", "stroke": "#77ee77", "shape": "triangle-up"}}
 ]
},
{
 "width": 310, "height": 225,
 "title": {"text": "c)", "orient": "bottom", "anchor": "start", "frame": "bounds", "offset": 12, "font": "Lato", "fontSize": 12, "fontWeight": "normal", "color": "#111"},
 "data": {"name": "c"},
 "encoding": {
  "x": {"field": "f", "type": "quantitative", "scale": {"type": "log", "domain": [0.00493, 149000], "nice": false},
   "axis": {"title": "Frecuencia (Hz)", "tickCount": 30, "format": "~g", "labelExpr": "abs(log(datum.value)/LN10-round(log(datum.value)/LN10))<0.001 ? datum.label : ''", "tickSize": {"condition": {"test": "abs(log(datum.value)/LN10-round(log(datum.value)/LN10))<0.001", "value": 4}, "value": 2.5}, "gridOpacity": {"condition": {"test": "abs(log(datum.value)/LN10-round(log(datum.value)/LN10))<0.001", "value": 1}, "value": 0}, "labelOverlap": false, "labelFlush": false, "labelFontSize": 9, "labelPadding": 0, "titlePadding": 7}},
  "y": {"field": "z", "type": "quantitative", "scale": {"type": "log", "domain": [10, 290000], "nice": false},
   "axis": {"title": "|Z| (Ω cm²)", "tickCount": 30, "format": "~g", "labelExpr": "abs(log(datum.value)/LN10-round(log(datum.value)/LN10))<0.001 ? datum.label : ''", "tickSize": {"condition": {"test": "abs(log(datum.value)/LN10-round(log(datum.value)/LN10))<0.001", "value": 4}, "value": 2.5}, "gridOpacity": {"condition": {"test": "abs(log(datum.value)/LN10-round(log(datum.value)/LN10))<0.001", "value": 1}, "value": 0}, "labelOverlap": false, "labelFlush": false, "labelFontSize": 9.5, "labelPadding": 2, "titlePadding": 3}}
 },
 "layer": [
  {"mark": {"type": "line", "strokeWidth": 0.7, "opacity": 0.5},
   "encoding": {"color": {"field": "s", "type": "nominal", "scale": {"domain": ["AZ31 1h", "AZ31 + af 1h", "AZ31+ af 24h", "Mg 1h", "Mg + af 1h", "Mg + af 24h"], "range": ["#000000", "#00e5ff", "#808000", "#33cc33", "#ee0000", "#2020ff"]},
    "legend": {"title": null, "orient": "none", "legendX": 197.5, "legendY": 0, "padding": 5, "fillColor": "white",
     "encode": {"symbols": {"update": {
      "stroke": {"signal": "datum.value=='AZ31 1h'?'#000000':datum.value=='AZ31 + af 1h'?'#22e0ee':datum.value=='AZ31+ af 24h'?'#808000':datum.value=='Mg 1h'?'#44dd44':datum.value=='Mg + af 1h'?'#ee0000':'#5050ff'"},
      "fill": {"signal": "datum.value=='AZ31 1h'?'#111111':datum.value=='AZ31 + af 1h'?'#33e0ee':datum.value=='AZ31+ af 24h'?'#8833ee':'transparent'"}, "opacity": {"value": 1}}}}}}}},
  {"mark": {"type": "point", "opacity": 0},
   "encoding": {"shape": {"field": "s", "type": "nominal", "scale": {"domain": ["AZ31 1h", "AZ31 + af 1h", "AZ31+ af 24h", "Mg 1h", "Mg + af 1h", "Mg + af 24h"], "range": ["M-3.4,0H-0.4M0.4,0H3.4M0,0.8L0.8,-0.8L-0.8,-0.8Z", "M-3.4,0H-1.05M1.05,0H3.4M1.05,0A1.05,1.05,0,1,1,-1.05,0A1.05,1.05,0,1,1,1.05,0Z", "M-3.4,0H-0.85M0.85,0H3.4M0,-0.95L0.85,0L0,0.95L-0.85,0Z", "M-3.4,0H-0.4M0.4,0H3.4M0,-0.8L0.8,0.8L-0.8,0.8Z", "M-3.4,0H-0.8M0.8,0H3.4M-0.8,-0.8H0.8V0.8H-0.8Z", "M-3.4,0H-0.95M0.95,0H3.4M0,-1L0.235,-0.324L0.951,-0.309L0.38,0.124L0.588,0.809L0,0.4L-0.588,0.809L-0.38,0.124L-0.951,-0.309L-0.235,-0.324Z"]}, "legend": null}}},
  {"transform": [{"filter": {"field": "s", "equal": "AZ31 1h"}}], "mark": {"type": "point", "opacity": 1, "strokeWidth": 1, "size": 45, "fill": "#111111", "stroke": "#111111", "shape": "triangle-down"}},
  {"transform": [{"filter": {"field": "s", "equal": "Mg 1h"}}], "mark": {"type": "point", "opacity": 1, "strokeWidth": 1, "size": 40, "fill": "transparent", "stroke": "#66ee66", "shape": "triangle-up"}},
  {"transform": [{"filter": {"field": "s", "equal": "AZ31+ af 24h"}}], "mark": {"type": "point", "opacity": 1, "strokeWidth": 1, "size": 50, "fill": "#8833ee", "stroke": "#8833ee", "shape": "diamond"}},
  {"transform": [{"filter": {"field": "s", "equal": "Mg + af 24h"}}], "mark": {"type": "point", "opacity": 1, "strokeWidth": 1, "size": 48, "fill": "transparent", "stroke": "#a0a0ff", "shape": "M0,-1L0.235,-0.324L0.951,-0.309L0.38,0.124L0.588,0.809L0,0.4L-0.588,0.809L-0.38,0.124L-0.951,-0.309L-0.235,-0.324Z"}},
  {"transform": [{"filter": {"field": "s", "equal": "AZ31 + af 1h"}}], "mark": {"type": "point", "opacity": 1, "strokeWidth": 1, "size": 70, "fill": "#33e0ee", "stroke": "#33e0ee", "shape": "circle"}},
  {"transform": [{"filter": {"field": "s", "equal": "Mg + af 1h"}}], "mark": {"type": "point", "opacity": 1, "strokeWidth": 1.1, "size": 45, "fill": "transparent", "stroke": "#ee0000", "shape": "square"}}
 ]
},
{
 "width": 320, "height": 92,
 "view": {"stroke": null},
 "data": {"name": "cap"},
 "mark": {"type": "text", "align": "left", "baseline": "middle", "font": "Lato", "fontSize": 12.5, "color": "#1a1a1a"},
 "encoding": {
  "y": {"field": "n", "type": "ordinal", "scale": {"padding": 0.786},
   "axis": {"title": null, "domain": false, "ticks": false, "grid": false, "labelExpr": "datum.value == 1 ? 'Figura 7.' : ''", "labelFont": "Lato", "labelFontWeight": "bold", "labelFontSize": 12, "labelPadding": 3, "labelColor": "#1a1a1a"}},
  "x": {"datum": 0, "type": "quantitative", "scale": {"domain": [0, 1]}, "axis": null},
  "text": {"field": "t"}
 }
}
]
}
